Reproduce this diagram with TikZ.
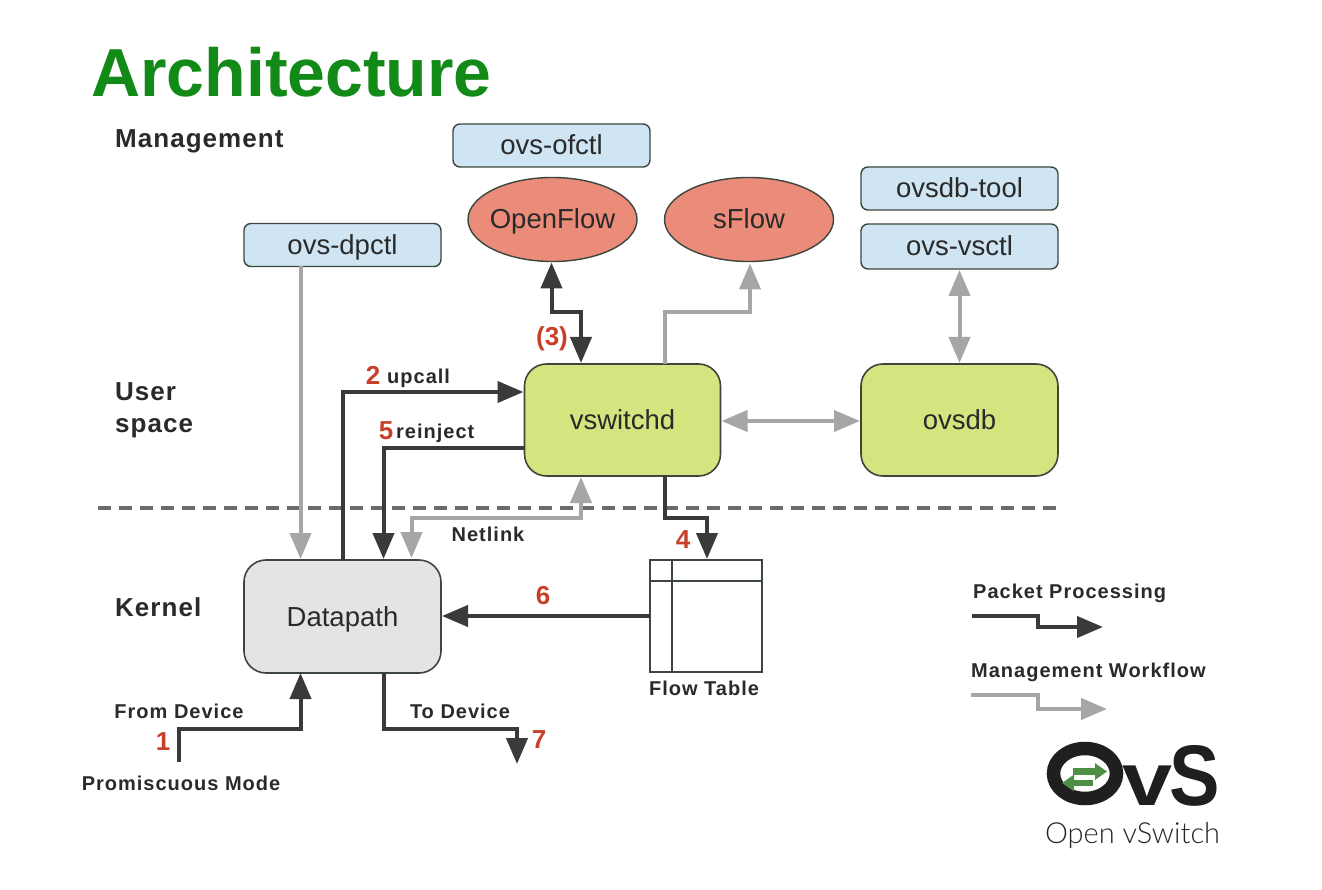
\documentclass[tikz,border=0pt]{standalone}
\usepackage{fontspec}
\usepackage{graphicx}
\setmainfont{Liberation Sans}
\newfontfamily\logofont{Lato Light}
\usetikzlibrary{arrows.meta,shapes.geometric,calc}
\definecolor{darkline}{HTML}{3A3A3A}
\definecolor{grayline}{HTML}{A6A6A6}
\definecolor{boxedge}{HTML}{3C463C}
\definecolor{bluefill}{HTML}{CFE5F3}
\definecolor{redfill}{HTML}{EB8B7A}
\definecolor{greenfill}{HTML}{D6E47F}
\definecolor{grayfill}{HTML}{E4E4E4}
\definecolor{titlegreen}{HTML}{128A17}
\definecolor{numred}{HTML}{C8402A}
\definecolor{logogreen}{HTML}{4C8F45}
\definecolor{textdark}{HTML}{2A2A2A}
\tikzset{
  px/.style={x=1pt,y=-1pt},
  >={Triangle[length=26pt,width=21pt]},
  boxtext/.style={inner sep=0pt,outer sep=0pt,font=\fontsize{27.5}{30}\selectfont,text=textdark,text height=19pt,text depth=0pt},
  tool/.style={boxtext,draw=boxedge,line width=1.4pt,fill=bluefill,rounded corners=7pt},
  proto/.style={boxtext,ellipse,draw=boxedge,line width=1.4pt,fill=redfill,inner xsep=-30pt},
  daemon/.style={boxtext,draw=boxedge,line width=1.6pt,fill=greenfill,rounded corners=22pt},
  kernelbox/.style={boxtext,draw=boxedge,line width=1.6pt,fill=grayfill,rounded corners=22pt},
  heading/.style={font=\bfseries\fontsize{26}{32}\selectfont\addfontfeature{LetterSpace=4},text=textdark,align=left,inner sep=0pt},
  lab/.style={font=\bfseries\fontsize{20}{22}\selectfont\addfontfeature{LetterSpace=5},text=textdark,inner sep=0pt,text height=14pt,text depth=0pt},
  num/.style={font=\bfseries\fontsize{26}{28}\selectfont,text=numred,inner sep=0pt},
  pkt/.style={draw=darkline,line width=4pt,line join=miter},
  mgmt/.style={draw=grayline,line width=4pt,line join=miter},
}
\begin{document}
\begin{tikzpicture}[px]
\useasboundingbox (0,0) rectangle (1322,890);
\fill[white] (0,0) rectangle (1322,890);

\node[anchor=west,inner sep=0pt,font=\bfseries\fontsize{68}{70}\selectfont,text=titlegreen] (title) at (91,72) {Architecture};
\node[heading,anchor=west] (hmgmt) at (115,141) {Management};
\node[heading,anchor=west] (huser) at (115,410) {User\\space};
\node[heading,anchor=west] (hkern) at (115,607) {Kernel};

% separator
\coordinate (sepL) at (98,508);
\coordinate (sepR) at (1058,508);
\draw[draw=darkline!75,line width=3.2pt,dash pattern=on 13pt off 8pt] (sepL) -- (sepR);

% nodes
\node[tool,minimum width=197pt,minimum height=43pt] (ofctl) at (551.5,145.5) {ovs-ofctl};
\node[tool,minimum width=197pt,minimum height=43pt] (dpctl) at (342.5,245) {ovs-dpctl};
\node[tool,minimum width=197pt,minimum height=43pt] (dbtool) at (959.5,188.5) {ovsdb-tool};
\node[tool,minimum width=197pt,minimum height=45pt] (vsctl) at (959.5,246.5) {ovs-vsctl};
\node[proto,minimum width=169pt,minimum height=84pt] (openflow) at (552.5,219.5) {OpenFlow};
\node[proto,minimum width=169pt,minimum height=84pt] (sflow) at (749,219.5) {sFlow};
\node[daemon,minimum width=196pt,minimum height=112pt] (vswitchd) at (622.5,420) {vswitchd};
\node[daemon,minimum width=197pt,minimum height=112pt] (ovsdb) at (959.5,420) {ovsdb};
\node[kernelbox,minimum width=197pt,minimum height=113pt] (datapath) at (342.5,616.5) {Datapath};
\node[draw=boxedge,line width=1.6pt,fill=white,minimum width=112pt,minimum height=112pt,inner sep=0pt,outer sep=0pt] (flowtable) at (706,616) {};
\draw[draw=boxedge,line width=1.6pt] ($(flowtable.north west)+(22,0)$) -- ($(flowtable.south west)+(22,0)$);
\draw[draw=boxedge,line width=1.6pt] ($(flowtable.north west)+(0,21)$) -- ($(flowtable.north east)+(0,21)$);

% connectors
\draw[mgmt,->] ($(dpctl.south west)+(56.5,0)$) -- ($(datapath.north west)+(56.5,-1)$);
\draw[pkt,<->] ($(openflow.south)+(-1,1)$) |- (566,312) -| ($(vswitchd.north west)+(56.5,-1)$);
\draw[mgmt,->] ($(vswitchd.north west)+(140.5,0)$) |- (700,312) -| ($(sflow.south)+(1,2)$);
\draw[mgmt,<->] ($(vsctl.south)+(0,1)$) -- ($(ovsdb.north)+(0,-1)$);
\draw[mgmt,<->] ($(vswitchd.east)+(1,1)$) -- ($(ovsdb.west)+(-1,1)$);
\draw[pkt,->] ($(datapath.north west)+(98.5,0)$) |- ($(vswitchd.north west)+(-1,28)$);
\draw[pkt,->] ($(vswitchd.south west)+(0,-28)$) -| ($(datapath.north west)+(139.5,-1)$);
\draw[mgmt,<->] ($(datapath.north west)+(167.5,-2)$) |- (500,518) -| ($(vswitchd.south west)+(56.5,1)$);
\draw[pkt,->] ($(vswitchd.south west)+(140.5,0)$) |- (690,518) -| ($(flowtable.north)+(1,-1)$);
\draw[pkt,->] (flowtable.west) -- ($(flowtable.west -| datapath.east)+(1,0)$);
\coordinate (promisc) at (179,762);
\draw[pkt,->] (promisc) |- (240,729) -| ($(datapath.south west)+(56.5,0)$);
\coordinate (todevice) at (517,764);
\draw[pkt,->] ($(datapath.south west)+(139.5,0)$) |- (450,729) -| (todevice);

% labels
\node[num] (n2) at (373,375) {2};
\node[lab,anchor=west] (lupcall) at (387,377) {upcall};
\node[num] (n5) at (386,431) {5};
\node[lab,anchor=west] (lreinj) at (396,431) {reinject};
\node[num] (n3) at (552,339) {(3)};
\node[lab] (lnetlink) at (488,534) {Netlink};
\node[num] (n4) at (683,540) {4};
\node[num] (n6) at (543,596) {6};
\node[lab] (lflow) at (704,688) {Flow Table};
\node[lab] (lfrom) at (179,711) {From Device};
\node[lab] (lto) at (460,711) {To Device};
\node[num] (n1) at (163,742) {1};
\node[num] (n7) at (539,740) {7};
\node[lab] (lprom) at (181,783) {Promiscuous Mode};

% legend
\node[lab,anchor=west] (lpkt) at (973,591) {Packet Processing};
\node[lab,anchor=west] (lmgmt) at (971,670) {Management Workflow};
\coordinate (la) at (972,616);
\coordinate (lb) at (1103,627);
\coordinate (lc) at (971,695);
\coordinate (ld) at (1107,709);
\draw[pkt,->] (la) -| (1038,627) -- (lb);
\draw[mgmt,->] (lc) -| (1038,709) -- (ld);

% logo
\node[ellipse,draw=black!88,line width=13.5pt,minimum width=63pt,minimum height=50pt,inner sep=0pt] (logoO) at (1085,773.5) {};
\draw[draw=logogreen,line width=6.5pt,-{Triangle[length=12pt,width=16pt]}] (1073,771.5) -- (1107,771.5);
\draw[draw=logogreen,line width=6.5pt,-{Triangle[length=12pt,width=16pt]}] (1093,783) -- (1062,783);
\node[anchor=base west,inner sep=0pt,text=black!88,font=\bfseries] (logoVS) at (1122,805) {\scalebox{1.2}[1]{\fontsize{75}{78}\selectfont v}\kern-3pt\scalebox{0.88}[1]{\fontsize{86}{88}\selectfont S}};
\node[anchor=center,inner sep=0pt,font=\logofont\fontsize{29}{31}\selectfont,text=black!85] (logoT) at (1132.5,835) {Open vSwitch};
\end{tikzpicture}
\end{document}
